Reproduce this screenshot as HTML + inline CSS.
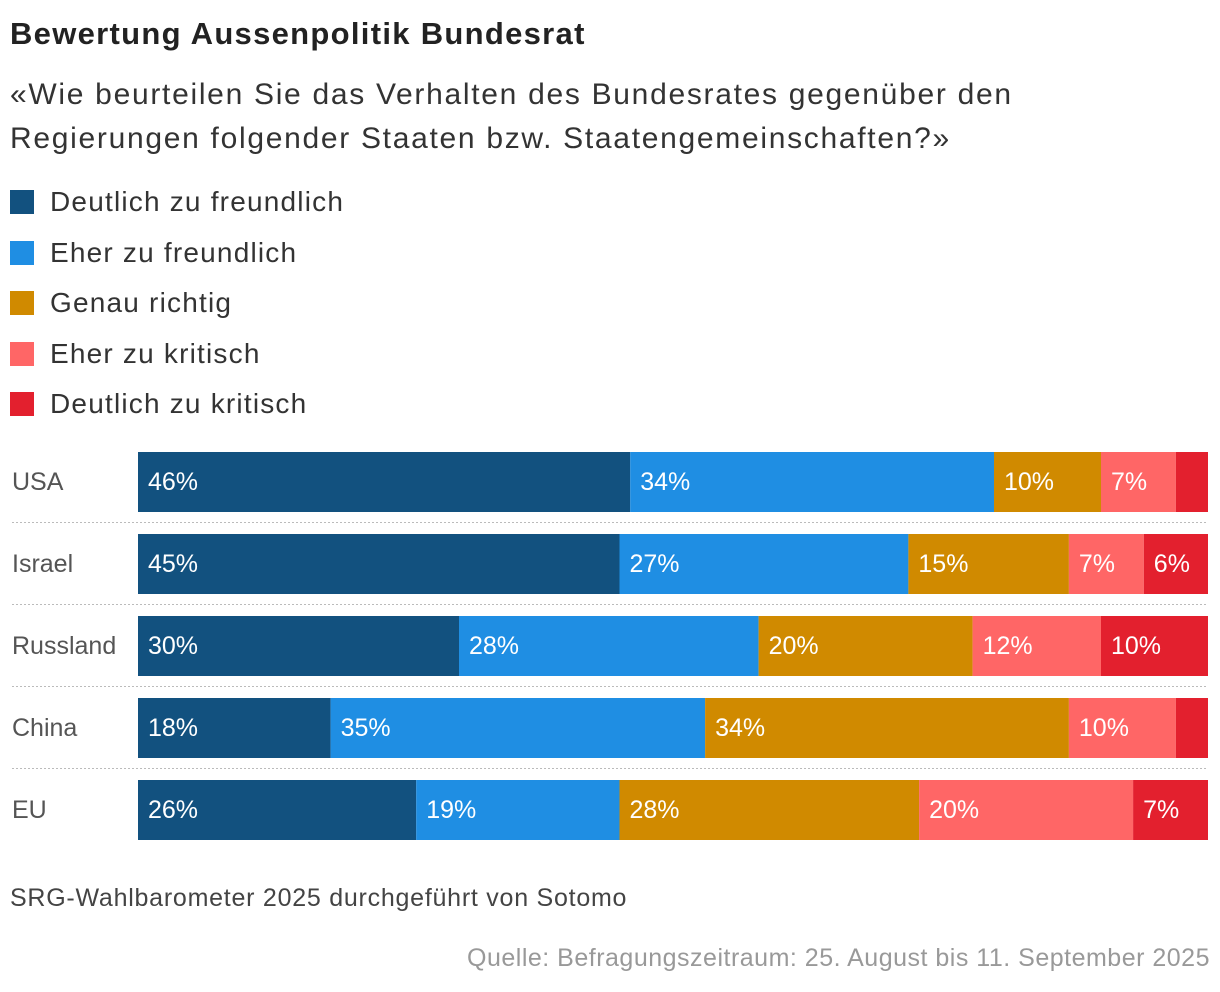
<!DOCTYPE html>
<html><head><meta charset="utf-8">
<style>
body{margin:0;width:1220px;height:992px;background:#fff;font-family:"Liberation Sans",sans-serif;color:#222;position:relative;overflow:hidden}
.t{position:absolute;white-space:nowrap}
.sq{position:absolute;left:10px;width:24px;height:24px}
</style></head><body>
<div class="t" style="left:10px;top:16px;font-size:31px;font-weight:bold;color:#222;letter-spacing:1.3px">Bewertung Aussenpolitik Bundesrat</div>
<div class="t" style="left:10px;top:73px;font-size:30px;line-height:44px;color:#333;letter-spacing:1.7px">«Wie beurteilen Sie das Verhalten des Bundesrates gegenüber den<br>Regierungen folgender Staaten bzw. Staatengemeinschaften?»</div>
<div id="legend"></div>
<svg id="chart" width="1220" height="992" style="position:absolute;left:0;top:0"></svg>
<div class="t" style="left:10px;top:884px;font-size:25px;color:#444;letter-spacing:0.75px">SRG-Wahlbarometer 2025 durchgeführt von Sotomo</div>
<div class="t" style="right:10px;top:944px;font-size:25px;color:#999;letter-spacing:0.5px">Quelle: Befragungszeitraum: 25. August bis 11. September 2025</div>
<script>
const categories=["USA","Israel","Russland","China","EU"];
const seriesNames=["Deutlich zu freundlich","Eher zu freundlich","Genau richtig","Eher zu kritisch","Deutlich zu kritisch"];
const s1=[46,45,30,18,26];
const s2=[34,27,28,35,19];
const s3=[10,15,20,34,28];
const s4=[7,7,12,10,20];
const s5=[3,6,10,3,7];
const colors=["#12517f","#1f8ee3","#d08a00","#ff6666","#e3202e"];
const series=[s1,s2,s3,s4,s5];
const X0=138,X1=1208,Y0=452,STEP=82,BH=60;
const x=v=>X0+(X1-X0)*v/100;
const y=i=>Y0+i*STEP;
const NS="http://www.w3.org/2000/svg";
const svg=document.getElementById('chart');
const leg=document.getElementById('legend');
seriesNames.forEach((n,k)=>{
  const sq=document.createElement('div');sq.className='sq';
  sq.style.top=(190+k*50.5)+'px';sq.style.background=colors[k];
  
  
  leg.appendChild(sq);
  const t=document.createElement('div');t.className='t';
  t.style.left='50px';t.style.top=(186+k*50.5)+'px';t.style.fontSize='28px';t.style.color='#333';t.style.letterSpacing='1.2px';
  t.textContent=n;
  
  
  leg.appendChild(t);
});
categories.forEach((c,i)=>{
  const lab=document.createElementNS(NS,'text');
  lab.setAttribute('x',12);lab.setAttribute('y',y(i)+BH/2+8);
  lab.setAttribute('font-size','25');lab.setAttribute('fill','#555');
  lab.textContent=c;
  
  
  svg.appendChild(lab);
  if(i<categories.length-1){
    const ln=document.createElementNS(NS,'line');
    ln.setAttribute('x1',12);ln.setAttribute('x2',X1);
    ln.setAttribute('y1',y(i)+BH+10.5);ln.setAttribute('y2',y(i)+BH+10.5);
    ln.setAttribute('stroke','#bbb');ln.setAttribute('stroke-dasharray','2,2');
    
    
    svg.appendChild(ln);
  }
  let cum=0;
  series.forEach((s,k)=>{
    const v=s[i];
    const r=document.createElementNS(NS,'rect');
    r.setAttribute('x',x(cum));r.setAttribute('y',y(i));
    r.setAttribute('width',x(cum+v)-x(cum));r.setAttribute('height',BH);
    r.setAttribute('fill',colors[k]);
    
    
    svg.appendChild(r);
    if(v>=5){
      const t=document.createElementNS(NS,'text');
      t.setAttribute('x',x(cum)+10);t.setAttribute('y',y(i)+BH/2+8);
      t.setAttribute('font-size','25');t.setAttribute('fill','#fff');
      t.textContent=v+'%';
      
      
      svg.appendChild(t);
    }
    cum+=v;
  });
});
</script>
</body></html>
